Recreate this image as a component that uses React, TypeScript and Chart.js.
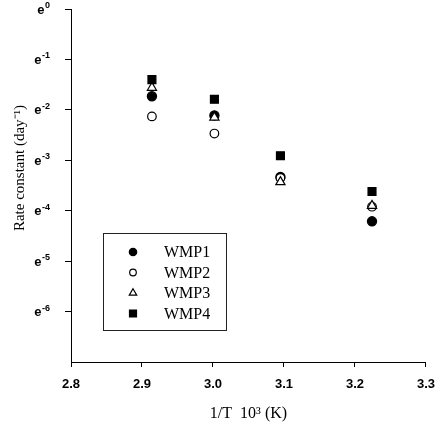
import { useEffect, useRef } from "react";
import { Chart, registerables } from "chart.js";
Chart.register(...registerables);

const invT = [2.914, 3.002, 3.095, 3.224];
const wmp1 = [-1.73, -2.11, -3.33, -4.21];
const wmp2 = [-2.13, -2.47, -3.35, -3.92];
const wmp3 = [-1.56, -2.15, -3.43, -3.9];
const wmp4 = [-1.4, -1.79, -2.91, -3.62];
const seriesNames = ["WMP1", "WMP2", "WMP3", "WMP4"];
const yTickExponents = [0, -1, -2, -3, -4, -5, -6];
const xTickLabels = ["2.8", "2.9", "3.0", "3.1", "3.2", "3.3"];
const yTitle = "Rate constant (day\u207B\u00B9)";
const xTitle = "1/T  10\u00B3 (K)";

const styles = [
  { pointStyle: "circle", radius: 4.6, fill: "#000" },
  { pointStyle: "circle", radius: 4.3, fill: "#fff" },
  { pointStyle: "triangle", radius: 5.3, fill: "#fff" },
  { pointStyle: "rect", radius: 5.6, fill: "#000" },
];

function drawSymbol(ctx: CanvasRenderingContext2D, style: string, x: number, y: number, r: number, fill: string) {
  ctx.save();
  ctx.fillStyle = fill;
  ctx.strokeStyle = "#000";
  ctx.lineWidth = 1.2;
  ctx.beginPath();
  if (style === "circle") {
    ctx.arc(x, y, r, 0, Math.PI * 2);
  } else if (style === "triangle") {
    ctx.moveTo(x, y - r);
    ctx.lineTo(x + r * 0.866, y + r * 0.5);
    ctx.lineTo(x - r * 0.866, y + r * 0.5);
    ctx.closePath();
  } else {
    ctx.rect(x - r, y - r, 2 * r, 2 * r);
  }
  ctx.fill();
  ctx.stroke();
  ctx.restore();
}

const customTextPlugin = {
  id: "customText",
  afterDraw(chart: any) {
    const ctx = chart.ctx as CanvasRenderingContext2D;
    const a = chart.chartArea;
    const ys = chart.scales.y;
    ctx.save();
    ctx.fillStyle = "#000";
    // y tick labels: e with superscript exponent
    yTickExponents.forEach((ex) => {
      const py = ys.getPixelForValue(ex);
      const expStr = ex === 0 ? "0" : "-" + String(-ex);
      ctx.font = "bold 9px 'Liberation Sans'";
      const ew = ctx.measureText(expStr).width;
      const right = a.left - 21;
      ctx.textAlign = "left";
      ctx.textBaseline = "alphabetic";
      ctx.fillText(expStr, right - ew, py - 1);
      ctx.font = "bold 13px 'Liberation Sans'";
      const w = ctx.measureText("e").width;
      ctx.fillText("e", right - ew - w - 0.5, py + 4.5);
    });
    // y title
    ctx.save();
    ctx.translate(a.left - 51, a.top + 159);
    ctx.rotate(-Math.PI / 2);
    ctx.font = "15px 'Liberation Serif'";
    ctx.textAlign = "center";
    ctx.textBaseline = "middle";
    ctx.fillText(yTitle, 0, 0);
    ctx.restore();
    // legend
    const bx = a.left + 32;
    const by = a.top + 224;
    ctx.strokeStyle = "#222";
    ctx.lineWidth = 1;
    ctx.strokeRect(bx + 0.5, by + 0.5, 123, 97);
    ctx.font = "16px 'Liberation Serif'";
    ctx.textAlign = "left";
    ctx.textBaseline = "middle";
    const sizes = [3.7, 3.3, 4.3, 3.5];
    seriesNames.forEach((name, i) => {
      const y = by + 19 + i * 20.5;
      drawSymbol(ctx, styles[i].pointStyle, bx + 30, y, sizes[i], styles[i].fill);
      ctx.fillStyle = "#000";
      ctx.fillText(name, bx + 61, y + 1);
    });
    ctx.restore();
  },
};

export default function App() {
  const ref = useRef<HTMLCanvasElement>(null);
  useEffect(() => {
    if (!ref.current) return;
    const series = [wmp1, wmp2, wmp3, wmp4];
    const chart = new Chart(ref.current, {
      type: "scatter",
      data: {
        datasets: series.map((vals, i) => ({
          label: seriesNames[i],
          data: vals.map((v, j) => ({ x: invT[j], y: v })),
          pointStyle: styles[i].pointStyle as any,
          pointRadius: styles[i].radius,
          pointBackgroundColor: styles[i].fill,
          pointBorderColor: "#000",
          pointBorderWidth: 1.2,
          order: 4 - i,
        })),
      },
      options: {
        animation: false,
        responsive: false,
        maintainAspectRatio: false,
        layout: { padding: { top: 9, right: 13, left: 0, bottom: 0 } },
        plugins: { legend: { display: false }, tooltip: { enabled: false } },
        scales: {
          x: {
            type: "linear",
            min: 2.8,
            max: 3.3,
            afterFit: (s: any) => { s.height = 67; },
            ticks: {
              stepSize: 0.1,
              padding: 10,
              color: "#000",
              font: { family: "'Liberation Sans'", size: 13, weight: "bold" },
              callback: (_v: any, i: number) => xTickLabels[i] ?? "",
            },
            grid: { drawOnChartArea: false, drawTicks: true, tickLength: 5, color: "#000" },
            border: { display: true, color: "#000", width: 1 },
            title: {
              display: true,
              text: xTitle,
              color: "#000",
              font: { family: "'Liberation Serif'", size: 16 },
              padding: { top: 4, bottom: 6 },
            },
          },
          y: {
            type: "linear",
            min: -7,
            max: 0,
            afterFit: (s: any) => { s.width = 71; },
            afterBuildTicks: (s: any) => { s.ticks = s.ticks.filter((t: any) => t.value > -7); },
            ticks: {
              stepSize: 1,
              padding: 0,
              font: { size: 1 },
              callback: () => "",
            },
            grid: { drawOnChartArea: false, drawTicks: true, tickLength: 6, color: "#000" },
            border: { display: true, color: "#000", width: 1 },
          },
        },
      },
      plugins: [customTextPlugin],
    });
    return () => chart.destroy();
  }, []);
  return (
    <div style={{ position: "absolute", left: 0, top: 0, width: 445, height: 429, background: "#fff" }}>
      <canvas ref={ref} width={445} height={429} style={{ width: 445, height: 429 }} />
    </div>
  );
}
